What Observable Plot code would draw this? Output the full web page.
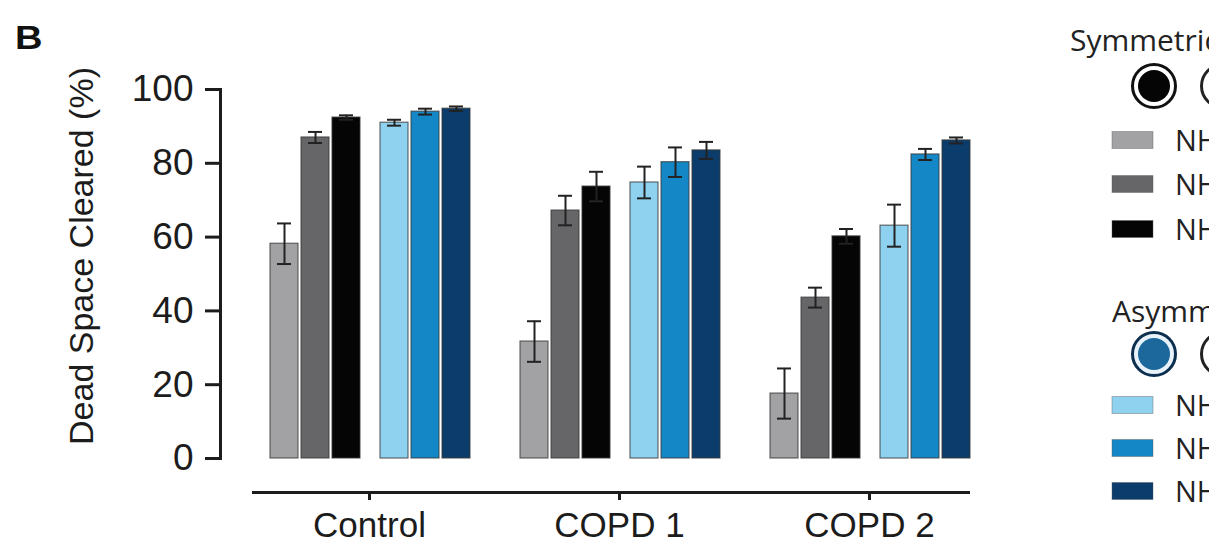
<!DOCTYPE html>
<html>
<head>
<meta charset="utf-8">
<script src="https://cdn.jsdelivr.net/npm/d3@7"></script>
<script src="https://cdn.jsdelivr.net/npm/@observablehq/plot@0.6"></script>
<style>
  html, body { margin: 0; padding: 0; background: #fff; overflow: hidden; width: 1209px; height: 547px; }
  #wrap { position: relative; width: 1209px; height: 547px; }
  #wrap > svg { position: absolute; left: 0; top: 0; }
  #overlay { pointer-events: none; }
</style>
</head>
<body>
<div id="wrap"></div>
<script>
// ---------- data ----------
const panelLabel = "B";
const yLabel = "Dead Space Cleared (%)";
const groups = ["Control", "COPD 1", "COPD 2"];
const yTicks = [0, 20, 40, 60, 80, 100];
const cannulaTitles = ["Symmetrical", "Asymmetrical"];
const flowLabels = ["NHF 20 L/min", "NHF 40 L/min", "NHF 60 L/min"];
const seriesKeys = ["Sym 20", "Sym 40", "Sym 60", "Asym 20", "Asym 40", "Asym 60"];
const seriesColors = ["#a2a2a4", "#666668", "#050505", "#8fd2f0", "#1488c6", "#0b3c6c"];

const sym20 = [58.2, 31.7, 17.6];   const sym20Err = [5.5, 5.5, 6.8];
const sym40 = [87.0, 67.2, 43.6];   const sym40Err = [1.5, 4.0, 2.7];
const sym60 = [92.4, 73.7, 60.2];   const sym60Err = [0.6, 4.0, 2.0];
const asym20 = [91.0, 74.8, 63.1];  const asym20Err = [0.8, 4.3, 5.7];
const asym40 = [94.0, 80.3, 82.4];  const asym40Err = [0.8, 4.0, 1.5];
const asym60 = [94.8, 83.5, 86.2];  const asym60Err = [0.6, 2.3, 0.8];

const seriesValues = [sym20, sym40, sym60, asym20, asym40, asym60];
const seriesErrors = [sym20Err, sym40Err, sym60Err, asym20Err, asym40Err, asym60Err];

// ---------- layout (styling) ----------
const barOffsets = [-85, -54, -23, 25, 56, 87];
const textColor = "#1c1c1c";

const rowsBySeries = seriesKeys.map((s, k) =>
  groups.map((g, i) => ({group: g, series: s, value: seriesValues[k][i], err: seriesErrors[k][i]}))
);

const seriesMarks = rowsBySeries.flatMap((rows, k) => [
  Plot.barY(rows, {x: "group", y: "value", fill: "series", dx: barOffsets[k],
    stroke: "#3a3a3a", strokeWidth: 1.2, strokeOpacity: 0.75}),
  Plot.ruleX(rows, {x: "group", y1: d => d.value - d.err, y2: d => d.value + d.err, dx: barOffsets[k],
    stroke: "#222", strokeWidth: 2}),
  Plot.tickY(rows, {x: "group", y: d => d.value + d.err, dx: barOffsets[k], inset: 7, stroke: "#222", strokeWidth: 2}),
  Plot.tickY(rows, {x: "group", y: d => d.value - d.err, dx: barOffsets[k], inset: 7, stroke: "#222", strokeWidth: 2})
]);

const plot = Plot.plot({
  width: 1209,
  height: 547,
  marginTop: 89,
  marginBottom: 89,
  marginLeft: 253,
  marginRight: 241,
  style: {fontFamily: "'Liberation Sans', Arial, sans-serif", fontSize: "36px", color: textColor, background: "transparent"},
  x: {type: "band", domain: groups, paddingInner: 0.888, paddingOuter: 0.371, align: 0.543, axis: null},
  y: {domain: [0, 100], axis: null},
  color: {domain: seriesKeys, range: seriesColors},
  marks: [
    ...seriesMarks,
    Plot.frame({anchor: "left", dx: -33, stroke: textColor, strokeWidth: 3}),
    Plot.frame({anchor: "bottom", dy: 34, stroke: textColor, strokeWidth: 3}),
    Plot.axisY({ticks: yTicks, tickSize: 15, tickPadding: 12, dx: -33, fontSize: 37, strokeWidth: 3,
      stroke: textColor, fill: textColor, label: null, tickFormat: d => String(d)}),
    Plot.axisX({tickSize: 8, tickPadding: 12, dy: 34, fontSize: 35, strokeWidth: 3,
      stroke: textColor, fill: textColor, label: null}),
    Plot.text([yLabel], {frameAnchor: "left", textAnchor: "middle", lineAnchor: "middle", rotate: -90,
      dx: -171, dy: -18, fontSize: 34, fill: textColor})
  ]
});

const wrap = document.getElementById("wrap");
wrap.appendChild(plot);

// ---------- overlay: panel letter and legend ----------
const svg = d3.select(wrap).append("svg")
  .attr("id", "overlay")
  .attr("width", 1209).attr("height", 547)
  .attr("viewBox", "0 0 1209 547");

svg.append("text")
  .attr("x", 15).attr("y", 49)
  .attr("font-family", "'Liberation Sans', Arial, sans-serif")
  .attr("font-weight", "bold").attr("font-size", 34)
  .attr("transform", "translate(15,0) scale(1.12,1) translate(-15,0)")
  .attr("fill", "#111")
  .text(panelLabel);

const legendFont = "'Open Sans', 'Noto Sans', sans-serif";
const blocks = [
  {title: cannulaTitles[0], titleX: 1070, titleY: 51, cy: 86, ring: "#111", inner: "#050505", gap: "#fff", rows: [140, 184, 229], keys: [0, 1, 2]},
  {title: cannulaTitles[1], titleX: 1112, titleY: 322, cy: 354, ring: "#0c2e4f", inner: "#1c679c", gap: "#e8f2fa", rows: [405, 448, 491], keys: [3, 4, 5]}
];

blocks.forEach(b => {
  svg.append("text")
    .attr("x", b.titleX).attr("y", b.titleY)
    .attr("font-family", legendFont).attr("font-size", 30)
    .attr("fill", "#222")
    .text(b.title);
  // filled prong icon
  svg.append("circle").attr("cx", 1154).attr("cy", b.cy).attr("r", 21.5)
    .attr("fill", b.gap).attr("stroke", b.ring).attr("stroke-width", 3);
  svg.append("circle").attr("cx", 1154).attr("cy", b.cy).attr("r", 16)
    .attr("fill", b.inner);
  // open prong icon
  svg.append("circle").attr("cx", 1223).attr("cy", b.cy).attr("r", 21.5)
    .attr("fill", "none").attr("stroke", "#222").attr("stroke-width", 3);
  b.rows.forEach((y, j) => {
    const k = b.keys[j];
    svg.append("rect")
      .attr("x", 1112).attr("y", y - 8.5).attr("width", 41).attr("height", 17)
      .attr("fill", seriesColors[k]).attr("stroke", "#555").attr("stroke-opacity", 0.4);
    svg.append("text")
      .attr("x", 1175).attr("y", y + 10.5)
      .attr("font-family", legendFont).attr("font-size", 29)
      .attr("fill", "#222")
      .text(flowLabels[j]);
  });
});
</script>
</body>
</html>
